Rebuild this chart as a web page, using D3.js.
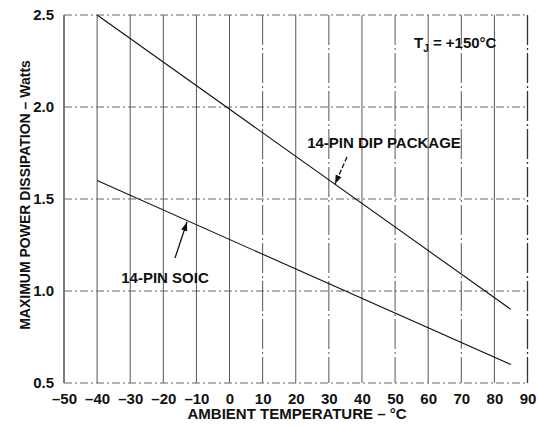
<!DOCTYPE html>
<html><head><meta charset="utf-8">
<script src="https://cdn.jsdelivr.net/npm/d3@7/dist/d3.min.js"></script>
<style>body{margin:0;background:#fff}text{font-family:"Liberation Sans",Arial,sans-serif;font-weight:bold;fill:#111}</style>
</head><body><svg id="c" width="538" height="427"></svg>
<script>
const xTicks = [-50,-40,-30,-20,-10,0,10,20,30,40,50,60,70,80,90];
const yTicks = [0.5,1.0,1.5,2.0,2.5];
const dipTemp = [-40, 85];
const dipPower = [2.5, 0.9];
const soicTemp = [-40, 85];
const soicPower = [1.6, 0.6];

const svg = d3.select("#c");
const x = d3.scaleLinear().domain([-50,90]).range([64,527.5]);
const y = d3.scaleLinear().domain([0.5,2.5]).range([383,15]);
const FS = "15px";

const defs = svg.append("defs");
defs.append("marker").attr("id","ah").attr("viewBox","0 0 10 10").attr("refX",10).attr("refY",5)
  .attr("markerWidth",9).attr("markerHeight",9).attr("markerUnits","userSpaceOnUse").attr("orient","auto")
  .append("path").attr("d","M0,1.5 L10,5 L0,8.5 Z").attr("fill","#111");

const g = svg.append("g");
// vertical grid
g.selectAll("line.v").data(xTicks).enter().append("line")
  .attr("x1",d=>x(d)).attr("x2",d=>x(d)).attr("y1",y(2.5)).attr("y2",y(0.5))
  .attr("stroke",d=>(d===-50||d===90)?"#333":"#555").attr("stroke-width",d=>(d===-50||d===90)?1.3:1)
  .attr("stroke-dasharray",d=>(d%20===10&&d>0)?"30,3,2,3":null);
// horizontal grid
g.selectAll("line.h").data(yTicks).enter().append("line")
  .attr("x1",x(-50)).attr("x2",x(90)).attr("y1",d=>y(d)).attr("y2",d=>y(d))
  .attr("stroke","#666").attr("stroke-width",1).attr("stroke-dasharray","8,3,2,3");

// axes tick labels
const xa = d3.axisBottom(x).tickValues(xTicks).tickSize(0).tickPadding(10).tickFormat(d=>d<0?"\u2013"+Math.abs(d):d);
const xg = svg.append("g").attr("transform",`translate(0,${y(0.5)})`).call(xa);
xg.select(".domain").remove();
xg.selectAll("text").style("font-size",FS).style("font-family","Liberation Sans, Arial, sans-serif").style("font-weight","bold").attr("fill","#111");
const ya = d3.axisLeft(y).tickValues(yTicks).tickSize(0).tickPadding(10).tickFormat(d3.format(".1f"));
const yg = svg.append("g").attr("transform",`translate(${x(-50)},0)`).call(ya);
yg.select(".domain").remove();
yg.selectAll("text").style("font-size",FS).style("font-family","Liberation Sans, Arial, sans-serif").style("font-weight","bold").attr("fill","#111");

// data lines
const line = d3.line().x(d=>x(d[0])).y(d=>y(d[1]));
svg.append("path").datum(d3.zip(dipTemp,dipPower)).attr("d",line).attr("fill","none").attr("stroke","#111").attr("stroke-width",1.1);
svg.append("path").datum(d3.zip(soicTemp,soicPower)).attr("d",line).attr("fill","none").attr("stroke","#111").attr("stroke-width",1.1);

// labels
svg.append("text").attr("x",384).attr("y",148).attr("text-anchor","middle").style("font-size",FS).text("14-PIN DIP PACKAGE");
svg.append("line").attr("x1",347).attr("y1",157).attr("x2",335).attr("y2",184).attr("stroke","#111").attr("stroke-width",1.3)
  .attr("stroke-dasharray","5,2").attr("marker-end","url(#ah)");
svg.append("text").attr("x",165).attr("y",283).attr("text-anchor","middle").style("font-size",FS).text("14-PIN SOIC");
svg.append("line").attr("x1",175).attr("y1",258).attr("x2",187).attr("y2",222).attr("stroke","#111").attr("stroke-width",1.3)
  .attr("marker-end","url(#ah)");
const tj = svg.append("text").attr("x",414).attr("y",48).style("font-size",FS);
tj.append("tspan").text("T");
tj.append("tspan").attr("dy",4).style("font-size","10px").text("J");
tj.append("tspan").attr("dy",-4).text(" = +150\u00B0C");

// axis titles
svg.append("text").attr("x",297).attr("y",419).attr("text-anchor","middle").style("font-size",FS).text("AMBIENT TEMPERATURE \u2013 \u00B0C");
svg.append("text").attr("transform",`translate(30,195) rotate(-90)`).attr("text-anchor","middle").style("font-size","14px").text("MAXIMUM POWER DISSIPATION \u2013 Watts");
</script></body></html>
